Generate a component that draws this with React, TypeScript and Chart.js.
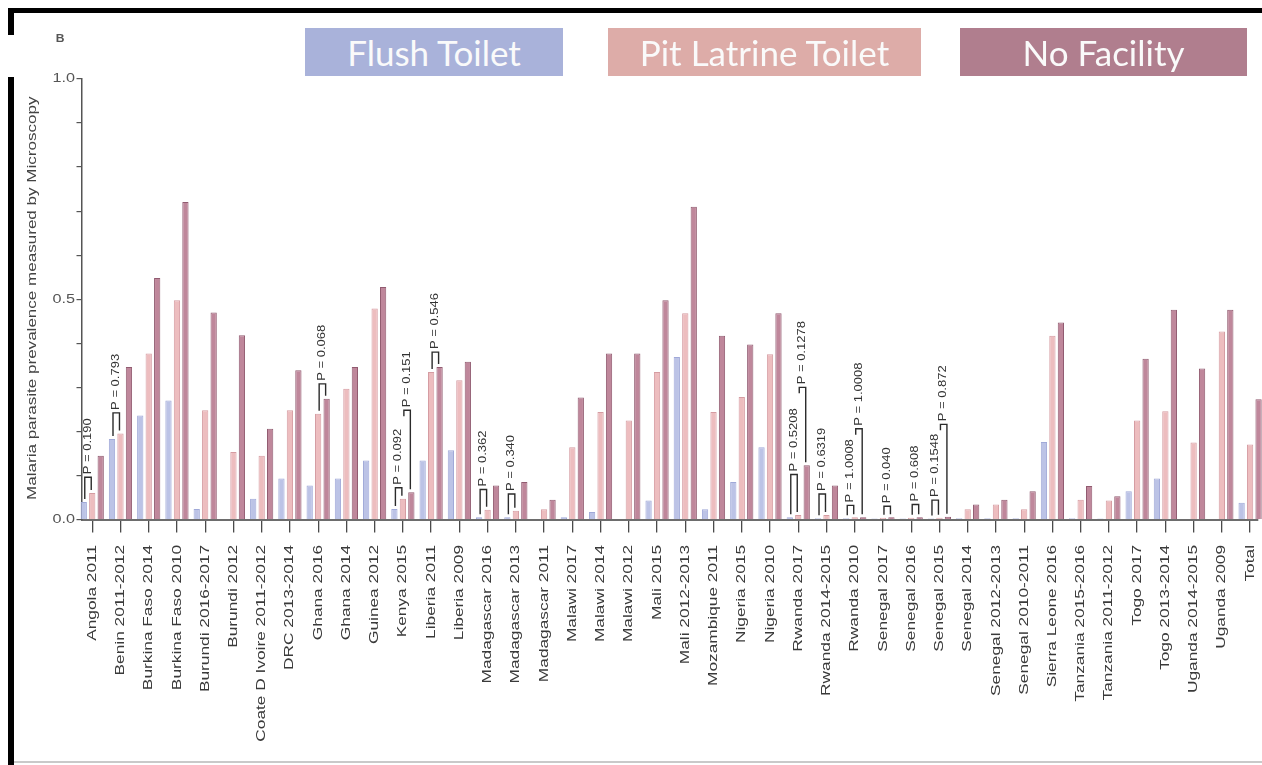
import React, { useEffect, useRef } from "react";
import { Chart, registerables } from "chart.js";

Chart.register(...registerables);

// Survey labels along the x axis
const surveys: string[] = [
  "Angola 2011",
  "Benin 2011-2012",
  "Burkina Faso 2014",
  "Burkina Faso 2010",
  "Burundi 2016-2017",
  "Burundi 2012",
  "Coate D Ivoire 2011-2012",
  "DRC 2013-2014",
  "Ghana 2016",
  "Ghana 2014",
  "Guinea 2012",
  "Kenya 2015",
  "Liberia 2011",
  "Liberia 2009",
  "Madagascar 2016",
  "Madagascar 2013",
  "Madagascar 2011",
  "Malawi 2017",
  "Malawi 2014",
  "Malawi 2012",
  "Mali 2015",
  "Mali 2012-2013",
  "Mozambique 2011",
  "Nigeria 2015",
  "Nigeria 2010",
  "Rwanda 2017",
  "Rwanda 2014-2015",
  "Rwanda 2010",
  "Senegal 2017",
  "Senegal 2016",
  "Senegal 2015",
  "Senegal 2014",
  "Senegal 2012-2013",
  "Senegal 2010-2011",
  "Sierra Leone 2016",
  "Tanzania 2015-2016",
  "Tanzania 2011-2012",
  "Togo 2017",
  "Togo 2013-2014",
  "Uganda 2014-2015",
  "Uganda 2009",
  "Total",
];

// Prevalence by sanitation type
const flushToilet: number[] = [
  0.04, 0.183, 0.236, 0.27, 0.024, 0, 0.047, 0.093, 0.077, 0.093, 0.134,
  0.024, 0.134, 0.157, 0.005, 0.005, 0, 0.005, 0.017, 0, 0.043, 0.369,
  0.023, 0.085, 0.164, 0.005, 0.003, 0.003, 0.002, 0.002, 0.002, 0.003,
  0.003, 0.003, 0.176, 0.003, 0.002, 0.064, 0.093, 0, 0, 0.038,
];
const pitLatrine: number[] = [
  0.06, 0.195, 0.377, 0.498, 0.248, 0.153, 0.145, 0.248, 0.24, 0.297, 0.479,
  0.047, 0.335, 0.316, 0.022, 0.02, 0.023, 0.164, 0.244, 0.225, 0.335, 0.468,
  0.244, 0.278, 0.375, 0.01, 0.01, 0.005, 0.004, 0.004, 0.004, 0.023,
  0.034, 0.023, 0.417, 0.045, 0.043, 0.225, 0.246, 0.175, 0.427, 0.17,
];
const noFacility: number[] = [
  0.145, 0.346, 0.548, 0.721, 0.47, 0.418, 0.206, 0.339, 0.274, 0.346, 0.528,
  0.062, 0.346, 0.358, 0.077, 0.085, 0.045, 0.277, 0.377, 0.377, 0.498, 0.71,
  0.417, 0.397, 0.468, 0.123, 0.077, 0.005, 0.005, 0.005, 0.006, 0.034,
  0.045, 0.064, 0.447, 0.076, 0.053, 0.365, 0.476, 0.343, 0.476, 0.273,
];

const seriesNames: string[] = ["Flush Toilet", "Pit Latrine Toilet", "No Facility"];

// Y axis labelled values
const yTickValues: number[] = [0, 0.5, 1.0];
const yTickLabels: string[] = ["0.0", "0.5", "1.0"];

// Significance brackets: survey index, compared series, bracket height, p-value text
const bracketSurvey: number[] = [0, 1, 8, 11, 11, 12, 14, 15, 25, 25, 26, 27, 27, 28, 29, 30, 30];
const bracketFrom: number[] = [0, 0, 1, 0, 1, 1, 0, 0, 0, 1, 0, 0, 1, 1, 1, 0, 1];
const bracketTo: number[] = [1, 1, 2, 1, 2, 2, 1, 1, 1, 2, 1, 1, 2, 2, 2, 1, 2];
const bracketTop: number[] = [
  0.096, 0.242, 0.308, 0.072, 0.248, 0.38, 0.068, 0.058, 0.102, 0.3, 0.058,
  0.032, 0.206, 0.03, 0.034, 0.044, 0.216,
];
const bracketText: string[] = [
  "P = 0.190",
  "P = 0.793",
  "P = 0.068",
  "P = 0.092",
  "P = 0.151",
  "P = 0.546",
  "P = 0.362",
  "P = 0.340",
  "P = 0.5208",
  "P = 0.1278",
  "P = 0.6319",
  "P = 1.0008",
  "P = 1.0008",
  "P = 0.040",
  "P = 0.608",
  "P = 0.1548",
  "P = 0.872",
];

const seriesValues = [flushToilet, pitLatrine, noFacility];
const fillColors = ["#bcc3e6", "#edbdbf", "#bf879b"];
const edgeColors = ["#a0a9d8", "#d59ca2", "#915b70"];
const legendColors = ["#a9b2da", "#ddaca8", "#b07e8e"];

const TEXT_FONT = '"Liberation Sans", Arial, sans-serif';

function drawText(
  ctx: CanvasRenderingContext2D,
  text: string,
  x: number,
  y: number,
  angle: number,
  stretch: number,
  align: CanvasTextAlign,
  font: string,
  color: string
) {
  ctx.save();
  ctx.translate(x, y);
  ctx.rotate(angle);
  ctx.scale(stretch, 1);
  ctx.font = font;
  ctx.fillStyle = color;
  ctx.textAlign = align;
  ctx.textBaseline = "middle";
  ctx.fillText(text, 0, 0);
  ctx.restore();
}

const overlayPlugin = {
  id: "overlay",
  afterDraw(chart: any) {
    const ctx: CanvasRenderingContext2D = chart.ctx;
    const xs = chart.scales.x;
    const ys = chart.scales.y;
    ctx.save();

    // page frame
    ctx.fillStyle = "#000";
    ctx.fillRect(8, 8, 1254, 5);
    ctx.fillRect(8, 8, 6, 27);
    ctx.fillRect(8, 77, 6, 688);
    ctx.fillStyle = "#c9c9c9";
    ctx.fillRect(14, 761, 1248, 2);

    // panel letter
    drawText(ctx, "B", 60, 39, 0, 1.1, "center", "bold 11px " + TEXT_FONT, "#555");

    // y axis labels and title
    yTickValues.forEach((v, i) => {
      drawText(ctx, yTickLabels[i], 75, ys.getPixelForValue(v), 0, 1.35, "right", "12px " + TEXT_FONT, "#555");
    });
    drawText(
      ctx,
      "Malaria parasite prevalence measured by Microscopy",
      33,
      (ys.top + ys.bottom) / 2 - 1,
      -Math.PI / 2,
      1.42,
      "center",
      "12px " + TEXT_FONT,
      "#444"
    );

    // x axis survey labels
    surveys.forEach((s, i) => {
      drawText(ctx, s, xs.getPixelForValue(i), 545, -Math.PI / 2, 1.33, "right", "13px " + TEXT_FONT, "#3a3a3a");
    });

    // significance brackets
    const base = ys.getPixelForValue(0);
    bracketSurvey.forEach((cat, k) => {
      const a = chart.getDatasetMeta(bracketFrom[k]).data[cat];
      const b = chart.getDatasetMeta(bracketTo[k]).data[cat];
      const xa = a.x + 1;
      const xb = b.x - 1;
      const top = ys.getPixelForValue(bracketTop[k]);
      const lowerExists = bracketSurvey.some(
        (c, j) => j !== k && c === cat && bracketTop[j] < bracketTop[k]
      );
      const legEnd = (series: number) =>
        Math.min(base - 2, Math.max(top + 4, ys.getPixelForValue(seriesValues[series][cat]) - 3));
      const leftEnd = lowerExists ? top + 6 : legEnd(bracketFrom[k]);
      const rightEnd = legEnd(bracketTo[k]);
      ctx.strokeStyle = "#2b2b2b";
      ctx.lineWidth = 1.4;
      ctx.beginPath();
      ctx.moveTo(xa, leftEnd);
      ctx.lineTo(xa, top);
      ctx.lineTo(xb, top);
      ctx.lineTo(xb, rightEnd);
      ctx.stroke();
      drawText(ctx, bracketText[k], (xa + xb) / 2, top - 3, -Math.PI / 2, 1.3, "left", "10px " + TEXT_FONT, "#333");
    });

    ctx.restore();
  },
};

const legendBoxes = [
  { left: 305, width: 258 },
  { left: 608, width: 313 },
  { left: 960, width: 287 },
];

export default function App() {
  const canvasRef = useRef<HTMLCanvasElement>(null);

  useEffect(() => {
    const canvas = canvasRef.current;
    if (!canvas) return;
    const chart = new Chart(canvas, {
      type: "bar",
      data: {
        datasets: seriesValues.map((vals, s) => ({
          label: seriesNames[s],
          data: vals.map((v, i) => ({ x: i, y: v })),
          backgroundColor: fillColors[s],
          borderColor: edgeColors[s],
          borderWidth: 1,
          categoryPercentage: 0.9,
          barPercentage: 0.74,
          clip: false,
        })),
      },
      options: {
        responsive: false,
        animation: false,
        events: [],
        layout: { padding: { top: 79, right: 4, bottom: 0, left: 61.5 } },
        plugins: {
          legend: { display: false },
          tooltip: { enabled: false },
        },
        scales: {
          x: {
            type: "linear",
            min: -0.38,
            max: 41.28,
            offset: false,
            ticks: { stepSize: 1, includeBounds: false, display: false, autoSkip: false },
            grid: {
              offset: false,
              drawOnChartArea: false,
              drawTicks: true,
              tickLength: 13,
              color: "#4a4a4a",
              lineWidth: 1.3,
            },
            border: { display: true, color: "#6d6d6d", width: 2 },
            afterFit: (scale: any) => {
              scale.height = 245.5;
            },
          },
          y: {
            type: "linear",
            min: 0,
            max: 1,
            ticks: { stepSize: 0.1, display: false },
            grid: {
              drawOnChartArea: false,
              drawTicks: true,
              tickLength: 5,
              color: "#555",
              lineWidth: 1.2,
            },
            border: { display: true, color: "#555", width: 1.5 },
            afterFit: (scale: any) => {
              scale.width = 20;
            },
          },
        },
      } as any,
      plugins: [overlayPlugin],
    });
    return () => chart.destroy();
  }, []);

  return (
    <div
      style={{
        position: "absolute",
        left: 0,
        top: 0,
        width: 1262,
        height: 765,
        background: "#fff",
        overflow: "hidden",
      }}
    >
      <canvas ref={canvasRef} width={1262} height={765} style={{ display: "block" }} />
      {legendBoxes.map((box, i) => (
        <div
          key={seriesNames[i]}
          style={{
            position: "absolute",
            left: box.left,
            top: 28,
            width: box.width,
            height: 48,
            background: legendColors[i],
            color: "#fafafa",
            fontFamily: "Lato, 'Open Sans', sans-serif",
            fontSize: 35,
            lineHeight: "48px",
            textAlign: "center",
          }}
        >
          {seriesNames[i]}
        </div>
      ))}
    </div>
  );
}
